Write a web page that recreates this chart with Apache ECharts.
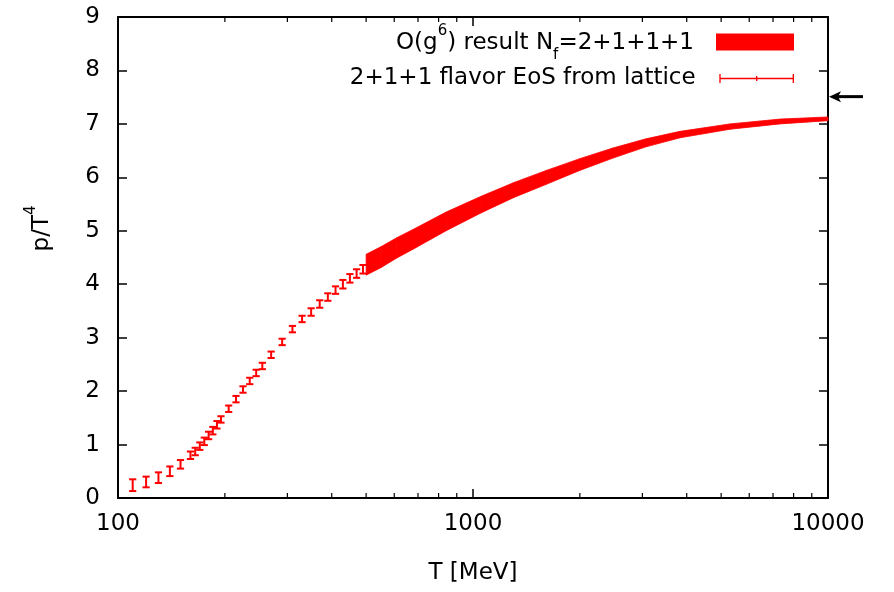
<!DOCTYPE html>
<html><head><meta charset="utf-8">
<script src="https://cdn.jsdelivr.net/npm/echarts@6/dist/echarts.min.js"></script>
<style>html,body{margin:0;padding:0;background:#fff}#c{width:894px;height:592px}</style>
</head><body><div id="c"></div><script>
// Lattice data (2+1+1 flavor EoS)
const latticeT = [110,120,130,140,150,160,165,170,175,180,185,190,195,205,215,225,235,245,255,270,290,310,330,350,370,390,410,430,450,470,490];
const latticeP = [0.24,0.30,0.38,0.50,0.63,0.80,0.87,0.97,1.06,1.17,1.26,1.37,1.47,1.67,1.85,2.03,2.19,2.34,2.47,2.68,2.92,3.16,3.35,3.48,3.63,3.76,3.89,4.00,4.11,4.20,4.28];
const latticeErr = [0.11,0.10,0.10,0.09,0.08,0.07,0.07,0.07,0.07,0.07,0.07,0.07,0.06,0.06,0.06,0.06,0.06,0.06,0.06,0.06,0.06,0.06,0.06,0.07,0.07,0.07,0.07,0.08,0.08,0.08,0.08];
// O(g^6) band
const bandT = [500,550,610,680,840,1050,1300,1610,2000,2480,3070,3830,5300,7330,10000];
const bandLow = [4.17,4.31,4.49,4.66,5.00,5.33,5.62,5.87,6.13,6.36,6.57,6.74,6.90,7.00,7.06];
const bandHigh = [4.56,4.70,4.87,5.03,5.35,5.64,5.90,6.13,6.35,6.55,6.72,6.86,7.00,7.09,7.13];
// Stefan-Boltzmann limit arrow
const sbLimit = 7.51;
const arrowT = [10065, 12546];
// axes
const xMin = 100, xMax = 10000;
const yMin = 0, yMax = 9, yStep = 1;
const xMinorTicks = [200,300,400,500,600,700,800,900,2000,3000,4000,5000,6000,7000,8000,9000];

const FONT = 'DejaVu Sans';
const RED = '#ff0000';

const chart = echarts.init(document.getElementById('c'), null, {renderer: 'canvas'});

const axisLineStyle = {color: '#000', width: 2};
const tickStyle = {color: '#000', width: 1.5};

const legendRich = {
  t: {fontFamily: FONT, fontSize: 23, color: '#000', lineHeight: 28, padding: [8, 0, 0, 0], verticalAlign: 'top'},
  sup: {fontFamily: FONT, fontSize: 15, color: '#000', lineHeight: 16, verticalAlign: 'top'},
  sub: {fontFamily: FONT, fontSize: 15, color: '#000', lineHeight: 12, padding: [24, 0, 0, 0], verticalAlign: 'top'},
  gap: {width: 17, height: 36, verticalAlign: 'top'}
};
const legendRich2 = {
  t: {fontFamily: FONT, fontSize: 23, color: '#000', lineHeight: 28},
  gap: {width: 17, height: 28}
};

// band segments: each item is one quadrilateral between consecutive T values
const bandSegments = bandT.slice(0, -1).map((t, i) => [t, bandLow[i], bandHigh[i], bandT[i + 1], bandLow[i + 1], bandHigh[i + 1]]);

chart.setOption({
  animation: false,
  backgroundColor: '#fff',
  grid: {left: 118, right: 66, top: 17, bottom: 94, containLabel: false},
  legend: [
    {
      data: [{name: 'band', icon: 'rect', itemStyle: {color: RED}}],
      right: 100, top: 24, padding: 0, align: 'right', orient: 'vertical',
      itemWidth: 78, itemHeight: 17, selectedMode: false,
      formatter: () => '{t|O(g}{sup|6}{t|) result N}{sub|f}{t|=2+1+1+1}{gap|}',
      textStyle: {rich: legendRich}
    },
    {
      data: [{name: 'lattice', icon: 'path://M0,4h78v1.4h-78z M0,0h1.4v9.4h-1.4z M38.3,2.2h1.4v5h-1.4z M76.6,0h1.4v9.4h-1.4z', itemStyle: {color: RED}}],
      right: 100, top: 67, padding: 0, align: 'right', orient: 'vertical',
      itemWidth: 78, itemHeight: 9, selectedMode: false,
      formatter: () => '{t|2+1+1 flavor EoS from lattice}{gap|}',
      textStyle: {rich: legendRich2}
    }
  ],
  xAxis: [
    {
      type: 'log', logBase: 10, min: xMin, max: xMax, position: 'bottom',
      axisLine: {onZero: false, lineStyle: axisLineStyle},
      axisTick: {inside: true, length: 9, lineStyle: tickStyle},
      axisLabel: {fontFamily: FONT, fontSize: 23, color: '#000', margin: 15, formatter: v => String(Math.round(v))},
      splitLine: {show: false},
      name: 'T [MeV]', nameLocation: 'middle', nameGap: 64,
      nameTextStyle: {fontFamily: FONT, fontSize: 23, color: '#000'}
    },
    {
      type: 'log', logBase: 10, min: xMin, max: xMax, position: 'top',
      axisLine: {onZero: false, lineStyle: axisLineStyle},
      axisTick: {inside: true, length: 9, lineStyle: tickStyle},
      axisLabel: {show: false}, splitLine: {show: false}
    }
  ],
  yAxis: [
    {
      type: 'value', min: yMin, max: yMax, interval: yStep, position: 'left',
      axisLine: {onZero: false, lineStyle: axisLineStyle},
      axisTick: {inside: true, length: 9, lineStyle: tickStyle},
      axisLabel: {fontFamily: FONT, fontSize: 23, color: '#000', margin: 18},
      splitLine: {show: false},
      name: '{a|p/T}{b|4}', nameLocation: 'middle', nameRotate: 90, nameGap: 64,
      nameTextStyle: {
        padding: [0, 0, 0, 58],
        rich: {
          a: {fontFamily: FONT, fontSize: 23, color: '#000', lineHeight: 30, verticalAlign: 'bottom'},
          b: {fontFamily: FONT, fontSize: 15, color: '#000', lineHeight: 16, verticalAlign: 'top'}
        }
      }
    },
    {
      type: 'value', min: yMin, max: yMax, interval: yStep, position: 'right',
      axisLine: {onZero: false, lineStyle: axisLineStyle},
      axisTick: {inside: true, length: 9, lineStyle: tickStyle},
      axisLabel: {show: false}, splitLine: {show: false}
    }
  ],
  series: [
    {
      name: 'band', type: 'custom',
      data: bandSegments,
      encode: {x: [0, 3], y: [1, 2, 4, 5]},
      itemStyle: {color: RED},
      renderItem: function (params, api) {
        const t0 = api.value(0), l0 = api.value(1), h0 = api.value(2);
        const t1 = api.value(3), l1 = api.value(4), h1 = api.value(5);
        const pts = [api.coord([t0, l0]), api.coord([t1, l1]), api.coord([t1, h1]), api.coord([t0, h0])];
        return {type: 'polygon', shape: {points: pts}, style: {fill: RED, stroke: RED, lineWidth: 0.8}};
      },
      z: 2
    },
    {
      name: 'lattice', type: 'custom',
      data: latticeT.map((t, i) => [t, latticeP[i], latticeErr[i]]),
      encode: {x: 0, y: 1},
      itemStyle: {color: RED},
      renderItem: function (params, api) {
        const t = api.value(0), v = api.value(1), e = api.value(2);
        const lo = api.coord([t, v - e]);
        const hi = api.coord([t, v + e]);
        const hw = 3.6;
        const st = {stroke: RED, lineWidth: 2};
        return {
          type: 'group',
          children: [
            {type: 'line', shape: {x1: lo[0], y1: lo[1], x2: hi[0], y2: hi[1]}, style: st},
            {type: 'line', shape: {x1: lo[0] - hw, y1: lo[1], x2: lo[0] + hw, y2: lo[1]}, style: st},
            {type: 'line', shape: {x1: hi[0] - hw, y1: hi[1], x2: hi[0] + hw, y2: hi[1]}, style: st}
          ]
        };
      },
      z: 3
    },
    {
      name: 'minorTicks', type: 'custom', silent: true,
      data: xMinorTicks.map(t => [t, yMin]),
      encode: {x: 0, y: 1},
      renderItem: function (params, api) {
        const t = api.value(0);
        const b = api.coord([t, yMin]);
        const tp = api.coord([t, yMax]);
        const st = {stroke: '#000', lineWidth: 1.2};
        return {
          type: 'group',
          children: [
            {type: 'line', shape: {x1: b[0], y1: b[1], x2: b[0], y2: b[1] - 5}, style: st},
            {type: 'line', shape: {x1: tp[0], y1: tp[1], x2: tp[0], y2: tp[1] + 5}, style: st}
          ]
        };
      },
      z: 4
    },
    {
      name: 'sbArrow', type: 'custom', silent: true, clip: false,
      data: [[arrowT[0], sbLimit, arrowT[1]]],
      encode: {x: [0, 2], y: 1},
      renderItem: function (params, api) {
        const tip = api.coord([api.value(0), api.value(1)]);
        const end = api.coord([api.value(2), api.value(1)]);
        const len = 12, half = 5.5;
        return {
          type: 'group',
          children: [
            {type: 'line', shape: {x1: tip[0] + len - 3, y1: tip[1], x2: end[0], y2: end[1]}, style: {stroke: '#000', lineWidth: 3}},
            {type: 'polygon', shape: {points: [[tip[0], tip[1]], [tip[0] + len, tip[1] - half], [tip[0] + len - 3, tip[1]], [tip[0] + len, tip[1] + half]]}, style: {fill: '#000'}}
          ]
        };
      },
      z: 5
    }
  ]
});
</script></body></html>
